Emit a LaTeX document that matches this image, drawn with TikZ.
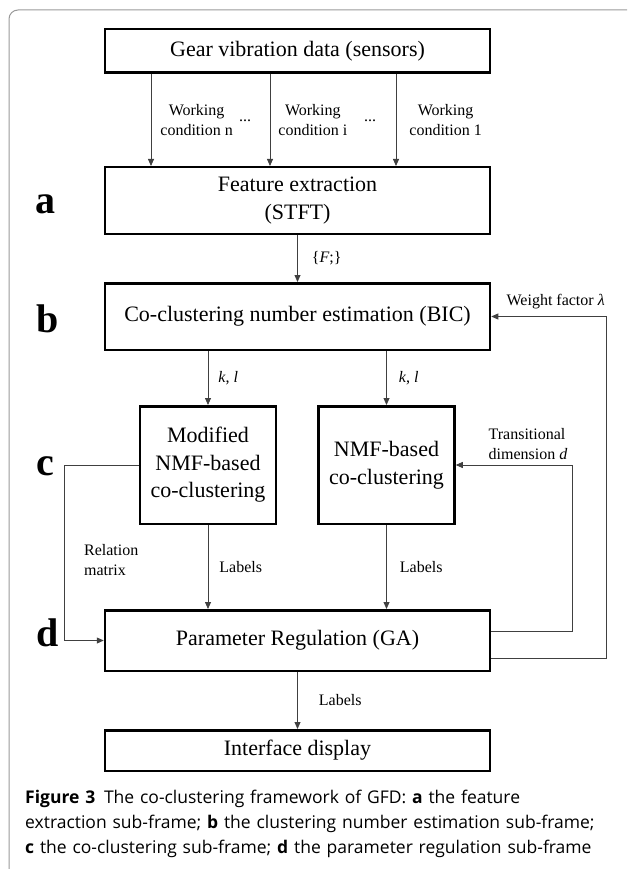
\documentclass[tikz,border=0pt]{standalone}
\usepackage{fontspec}
\setmainfont{Liberation Serif}
\newfontfamily\capfont{Open Sans}
\usetikzlibrary{positioning,arrows.meta}

\tikzset{
  box/.style={draw, line width=2.5pt, inner sep=0pt, minimum width=385pt, align=center, font=\fontsize{22}{28}\selectfont},
  cbox/.style={box, minimum width=136pt, minimum height=117.5pt, font=\fontsize{22}{27.5}\selectfont},
  arr/.style={draw=black!75, line width=0.8pt, -{Triangle[length=7pt,width=6pt]}},
  lbl/.style={font=\fontsize{16}{20}\selectfont, align=center, inner sep=0pt},
  tag/.style={font=\fontsize{40}{40}\selectfont\bfseries, anchor=base west, inner sep=0pt}
}

\begin{document}
\begin{tikzpicture}[x=1pt, y=-1pt]
    \useasboundingbox (0,0) rectangle (627,869);
    \clip (0,0) rectangle (627,869);
    \draw[gray!80, line width=1pt, rounded corners=9pt] (9,10) rectangle (660,900);

    % main column
    \node (sensors) [box, minimum height=43.5pt] at (297.5,51) {Gear vibration data (sensors)};
    \node (feat) [box, minimum height=66.5pt, below=92pt of sensors] {Feature extraction\\(STFT)};
    \node (bic) [box, minimum height=66.5pt, below=47pt of feat] {Co-clustering number estimation (BIC)};
    \node (modnmf) [cbox, below=54pt of bic, xshift=-89.5pt] {Modified\\NMF-based\\co-clustering};
    \node (nmf) [cbox, below=54pt of bic, xshift=89pt] {NMF-based\\co-clustering};
    \node (ga) [box, minimum height=60.5pt, below=84pt of modnmf, xshift=89.5pt] {Parameter Regulation (GA)};
    \node (display) [box, minimum height=40.5pt, below=57pt of ga] {Interface display};

    % sub-frame letters
    \node (taga) [tag] at (35,213) {a};
    \node (tagb) [tag] at (36,332) {b};
    \node (tagc) [tag] at (36,475) {c};
    \node (tagd) [tag] at (36,646) {d};

    % working conditions
    \draw[arr] ([xshift=-146.5pt]sensors.south) -- node[lbl, right=9pt] {Working\\condition n} ([xshift=-146.5pt]feat.north);
    \draw[arr] ([xshift=-27.5pt]sensors.south) -- node[lbl, right=8pt] {Working\\condition i} ([xshift=-27.5pt]feat.north);
    \draw[arr] ([xshift=98.5pt]sensors.south) -- node[lbl, right=13pt] {Working\\condition 1} ([xshift=98.5pt]feat.north);
    \node (dotsa) [lbl] at (245,121) {...};
    \node (dotsb) [lbl] at (370,121) {...};

    \draw[arr] (feat) -- node[lbl, right=14pt] {\{\textit{F};\}} (bic);
    \draw[arr] (bic.south -| modnmf) -- node[lbl, right=10pt] {\textit{k}, \textit{l}} (modnmf);
    \draw[arr] (bic.south -| nmf) -- node[lbl, right=12pt] {\textit{k}, \textit{l}} (nmf);
    \draw[arr] (modnmf) -- node[lbl, right=11pt] {Labels} (ga.north -| modnmf);
    \draw[arr] (nmf) -- node[lbl, right=13pt] {Labels} (ga.north -| nmf);
    \draw[arr] (ga) -- node[lbl, right=21pt] {Labels} (display);

    % feedback loops
    \draw[arr] (modnmf.west) -- ++(-74,0) |- node[lbl, pos=0.27, right=19pt, align=left] {Relation\\matrix} (ga.west);
    \draw[arr] ([yshift=9.5pt]ga.east) -- ++(81,0) |- node[lbl, pos=0.69, above=5pt, align=left] {Transitional\\dimension \textit{d}} (nmf.east);
    \draw[arr] ([yshift=-17.5pt]ga.east) -- ++(115,0) |- node[lbl, pos=0.72, above=7pt] {Weight factor \textit{λ}} (bic.east);

    % caption
    \node (caption) [anchor=base west, inner sep=0pt, align=left, text width=600pt,
      font=\capfont\fontsize{17.5}{25}\selectfont] at (25,803)
      {\textbf{Figure 3}\enspace The co-clustering framework of GFD: \textbf{a} the feature\\
       extraction sub-frame; \textbf{b} the clustering number estimation sub-frame;\\
       \textbf{c} the co-clustering sub-frame; \textbf{d} the parameter regulation sub-frame};
\end{tikzpicture}
\end{document}
